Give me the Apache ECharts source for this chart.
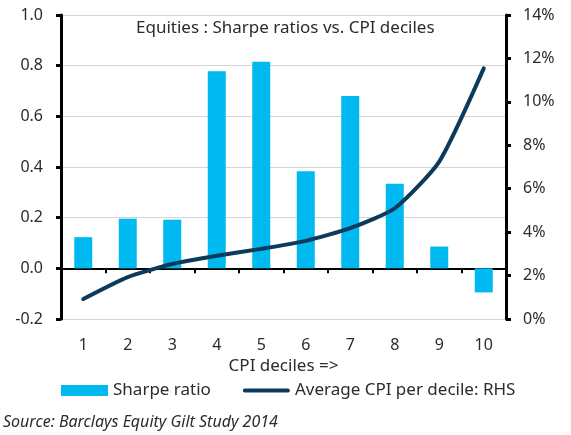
<!DOCTYPE html>
<html>
<head>
<meta charset="utf-8">
<script src="https://cdn.jsdelivr.net/npm/echarts@6/dist/echarts.min.js"></script>
<style>
  html, body { margin: 0; padding: 0; background: #fff; }
  #chart { width: 571px; height: 435px; }
</style>
</head>
<body>
<div id="chart"></div>
<script>
// 数据
const deciles = ["1", "2", "3", "4", "5", "6", "7", "8", "9", "10"];
const sharpeRatio = [0.123, 0.196, 0.192, 0.778, 0.815, 0.383, 0.68, 0.334, 0.086, -0.095];
const avgCpi = [0.92, 1.93, 2.53, 2.91, 3.23, 3.6, 4.18, 5.1, 7.25, 11.54];

const font = "'Noto Sans', sans-serif";
const textColor = "#2b2b2b";

// 1. 实例化echart对象
const myChart = echarts.init(document.querySelector("#chart"));
// 2. 调整配置
const option = {
  animation: false,
  textStyle: { fontFamily: font },
  title: {
    text: "Equities : Sharpe ratios vs. CPI deciles",
    left: 131,
    top: 15,
    textStyle: { fontSize: 17, fontWeight: "normal", color: textColor, fontFamily: font },
  },
  grid: {
    left: 61,
    right: 65,
    top: 15,
    bottom: 116,
  },
  legend: {
    left: 56,
    top: 377,
    itemWidth: 47,
    itemHeight: 11,
    itemGap: 32,
    textStyle: { fontSize: 17, color: textColor, fontFamily: font },
    data: [
      { name: "Sharpe ratio", icon: "rect" },
      // 线条图例: 细横条, 用 moveTo 撑开包围盒
      { name: "Average CPI per decile: RHS", icon: "path://M0,0 M48,11 M2,3.5 L46,3.5 A2,2 0 0 1 46,7.5 L2,7.5 A2,2 0 0 1 2,3.5 Z" },
    ],
  },
  graphic: [
    {
      type: "text",
      left: 3,
      top: 414,
      style: {
        text: "Source: Barclays Equity Gilt Study 2014",
        font: "italic 16px 'Noto Sans', sans-serif",
        fill: textColor,
      },
    },
  ],
  xAxis: [
    {
      type: "category",
      data: deciles,
      position: "bottom",
      axisLine: { onZero: true, lineStyle: { color: "#000", width: 2 } },
      axisTick: { show: true, length: 5, lineStyle: { color: "#000", width: 2 } },
      axisLabel: { show: false },
    },
    {
      type: "category",
      data: deciles,
      position: "bottom",
      axisLine: { show: false, onZero: false },
      axisTick: { show: false },
      axisLabel: { margin: 18, fontSize: 16, color: textColor },
      name: "CPI deciles =>",
      nameLocation: "middle",
      nameGap: 39,
      nameTextStyle: { fontSize: 17, color: textColor },
    },
  ],
  yAxis: [
    {
      type: "value",
      min: -0.2,
      max: 1.0,
      interval: 0.2,
      axisLine: { show: true, lineStyle: { color: "#000", width: 3 } },
      axisTick: { show: true, length: 5, lineStyle: { color: "#000", width: 3 } },
      axisLabel: {
        margin: 18,
        fontSize: 16,
        color: textColor,
        formatter: (v) => v.toFixed(1),
      },
      splitLine: { lineStyle: { color: "#d4d4d4", width: 1 } },
    },
    {
      type: "value",
      min: 0,
      max: 14,
      interval: 2,
      axisLine: { show: true, lineStyle: { color: "#000", width: 3 } },
      axisTick: { show: true, length: 5, lineStyle: { color: "#000", width: 3 } },
      axisLabel: {
        margin: 17,
        fontSize: 16,
        color: textColor,
        formatter: "{value}%",
      },
      splitLine: { show: false },
    },
  ],
  series: [
    {
      name: "Sharpe ratio",
      type: "bar",
      data: sharpeRatio,
      barWidth: 18,
      itemStyle: { color: "#00b9f0" },
    },
    {
      name: "Average CPI per decile: RHS",
      type: "line",
      yAxisIndex: 1,
      data: avgCpi,
      symbol: "none",
      smooth: 0.2,
      lineStyle: { color: "#0b3a5c", width: 4, cap: "round" },
      itemStyle: { color: "#0b3a5c" },
      z: 3,
    },
  ],
};
// 3. 调用setOption方法
myChart.setOption(option);
</script>
</body>
</html>
